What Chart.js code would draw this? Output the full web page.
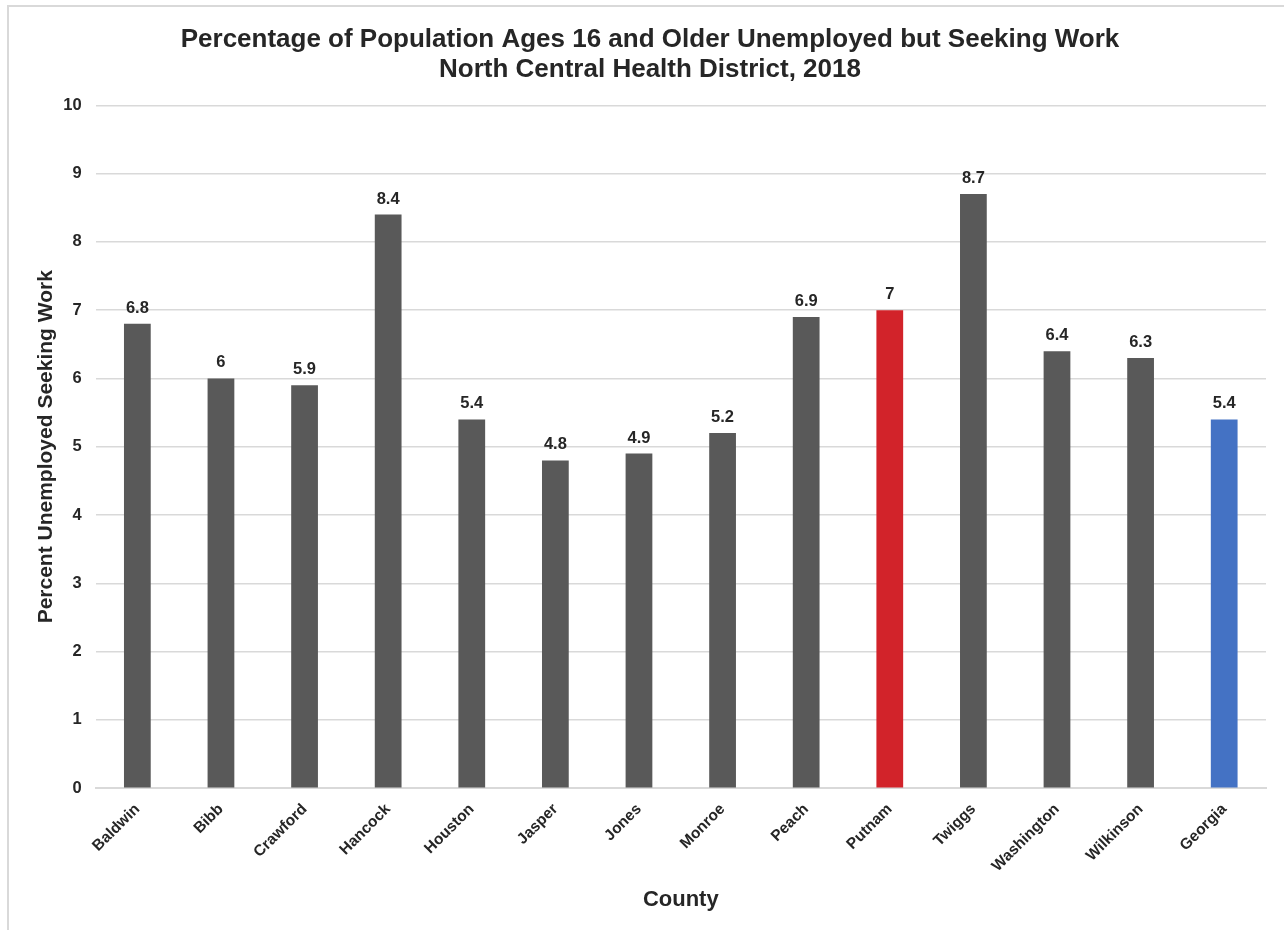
<!DOCTYPE html>
<html>
<head>
<meta charset="utf-8">
<script src="https://cdn.jsdelivr.net/npm/chart.js@4"></script>
<style>
  body { margin: 0; background: #fff; }
  #wrap { position: absolute; left: 0; top: 0; width: 1284px; height: 930px; }
  #frame { position: absolute; left: 7px; top: 5px; width: 1290px; height: 940px; border-left: 2px solid #d9d9d9; border-top: 2px solid #d9d9d9; }
</style>
</head>
<body>
<div id="wrap">
  <div id="frame"></div>
  <canvas id="chart" width="1284" height="930"></canvas>
</div>
<script>
const counties = ['Baldwin', 'Bibb', 'Crawford', 'Hancock', 'Houston', 'Jasper', 'Jones', 'Monroe', 'Peach', 'Putnam', 'Twiggs', 'Washington', 'Wilkinson', 'Georgia'];
const unemployed = [6.8, 6, 5.9, 8.4, 5.4, 4.8, 4.9, 5.2, 6.9, 7, 8.7, 6.4, 6.3, 5.4];
const barColors = ['#595959', '#595959', '#595959', '#595959', '#595959', '#595959', '#595959', '#595959', '#595959', '#d2232a', '#595959', '#595959', '#595959', '#4472c4'];
const titleLines = ['Percentage of Population Ages 16 and Older Unemployed but Seeking Work', 'North Central Health District, 2018'];

const fontFam = '"Liberation Sans", Arial, sans-serif';

// etiquetas de valor em cima das barras
const valueLabels = {
    id: 'valueLabels',
    afterDatasetsDraw(chart) {
        const ctx = chart.ctx;
        const meta = chart.getDatasetMeta(0);
        ctx.save();
        ctx.font = 'bold 16.5px ' + fontFam;
        ctx.fillStyle = '#262626';
        ctx.textAlign = 'center';
        ctx.textBaseline = 'alphabetic';
        meta.data.forEach((bar, i) => {
            ctx.fillText(String(unemployed[i]), bar.x, bar.y - 11);
        });
        ctx.restore();
    }
};

const ctx = document.getElementById('chart').getContext('2d');
new Chart(ctx, {
    type: 'bar',
    data: {
        labels: counties,
        datasets: [{
            data: unemployed,
            backgroundColor: barColors,
            categoryPercentage: 1,
            barPercentage: 0.32
        }]
    },
    options: {
        responsive: false,
        animation: false,
        layout: { padding: { left: 34, right: 18, top: 8, bottom: 13 } },
        scales: {
            y: {
                min: 0,
                max: 10,
                ticks: {
                    stepSize: 1,
                    color: '#262626',
                    font: { family: fontFam, size: 16.5, weight: 'bold' },
                    padding: 14
                },
                grid: { color: '#d9d9d9', lineWidth: 1.5, drawTicks: false },
                border: { display: false },
                title: {
                    display: true,
                    text: 'Percent Unemployed Seeking Work',
                    color: '#262626',
                    font: { family: fontFam, size: 21, weight: 'bold' },
                    padding: { top: 0, bottom: -10 }
                }
            },
            x: {
                ticks: {
                    minRotation: 45,
                    maxRotation: 45,
                    color: '#262626',
                    font: { family: fontFam, size: 15.5, weight: 'bold' },
                    padding: 12
                },
                grid: { display: false, drawTicks: false },
                border: { display: true, color: '#d9d9d9', width: 2 },
                title: {
                    display: true,
                    text: 'County',
                    color: '#262626',
                    font: { family: fontFam, size: 22, weight: 'bold' },
                    padding: { top: -1 }
                }
            }
        },
        plugins: {
            legend: { display: false },
            tooltip: { enabled: false },
            title: {
                display: true,
                text: titleLines,
                color: '#262626',
                font: { family: fontFam, size: 26, weight: 'bold', lineHeight: 1.16 },
                padding: { top: 17, bottom: 20 }
            }
        }
    },
    plugins: [valueLabels]
});
</script>
</body>
</html>
